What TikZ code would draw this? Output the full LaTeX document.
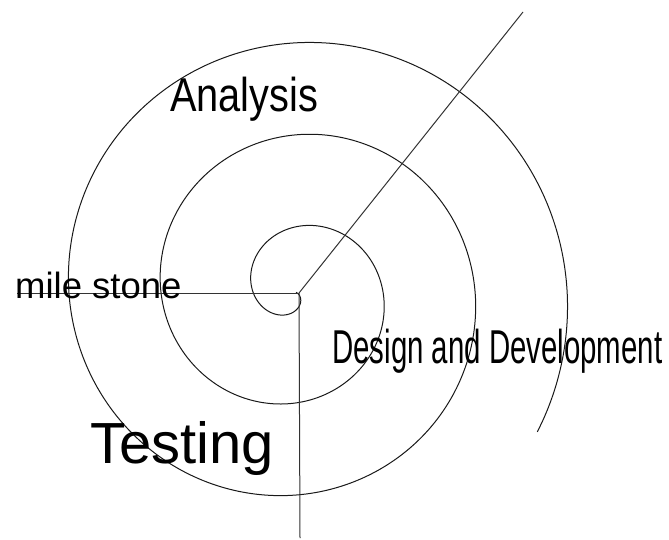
\documentclass[tikz,border=0pt]{standalone}
\usepackage{fontspec}
\setmainfont{Liberation Sans}
\usepackage{graphicx}
\newcommand{\narrowtext}[3]{\scalebox{#2}[1]{\fontsize{#1}{#1}\selectfont #3}}
\begin{document}
\begin{tikzpicture}[x=1pt,y=-1pt,
        phase/.style={anchor=base west,inner sep=0pt,text=black},
        axisline/.style={line width=1pt,black!80}]
            \useasboundingbox (0,0) rectangle (669,540);

            \draw[line width=1pt,black!90] plot[domain=20:1110,samples=400,smooth]
                ({295+(19+0.2557*(\x-90))*cos(\x)},{292+(19+0.2557*(\x-90))*sin(\x)});

            \coordinate (hub) at (299,293);
            \coordinate (ne) at (523,12);
            \coordinate (w) at (17,293);
            \coordinate (s) at (300,538);
            \draw[axisline] (hub) -- (ne);
            \draw[axisline] (hub) -- (w);
            \draw[axisline] (hub) -- (s);

            \node[phase] (analysis) at (170,112) {\narrowtext{47.5}{0.837}{Analysis}};
            \node[phase] (milestone) at (15,298) {\narrowtext{36.5}{1}{mile stone}};
            \node[phase] (design) at (332,363) {\narrowtext{47.5}{0.619}{Design and Development}};
            \node[phase] (testing) at (90,463) {\narrowtext{58}{1}{Testing}};
        \end{tikzpicture}
\end{document}
